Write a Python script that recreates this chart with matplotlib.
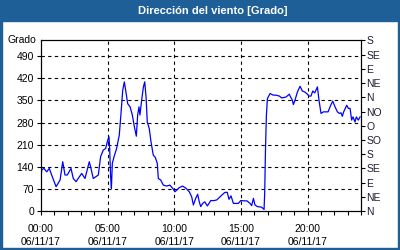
import numpy as np
import matplotlib.pyplot as plt
from matplotlib.patches import Rectangle

plt.rcParams['font.family'] = ['Liberation Sans', 'DejaVu Sans']

title = 'Dirección del viento [Grado]'
y_name = 'Grado'

# hours since 00:00 and wind direction in degrees
hours = [0.0, 0.05, 0.22, 0.43, 0.62, 0.8, 1.13, 1.43, 1.63, 1.8, 1.97, 2.25, 2.42, 2.63,
         3.05, 3.3, 3.62, 3.72, 3.92, 4.3, 4.47, 4.67, 4.85, 5.0, 5.1, 5.15, 5.22, 5.28,
         5.35, 5.48, 5.67, 5.87, 6.0, 6.13, 6.25, 6.37, 6.5, 6.68, 6.85, 7.0, 7.15, 7.25,
         7.35, 7.42, 7.55, 7.68, 7.78, 7.88, 7.97, 8.12, 8.25, 8.42, 8.57, 8.72, 8.8,
         8.98, 9.17, 9.42, 9.67, 9.87, 10.05, 10.17, 10.37, 10.62, 10.87, 11.12, 11.3,
         11.43, 11.6, 11.75, 11.87, 11.98, 12.13, 12.28, 12.48, 12.73, 12.98, 13.18,
         13.43, 13.63, 13.8, 13.97, 14.1, 14.25, 14.43, 14.8, 14.98, 15.3, 15.45, 15.68,
         15.8, 15.93, 16.05, 16.23, 16.55, 16.73, 16.78, 16.83, 16.9, 16.98, 17.18,
         17.42, 17.6, 17.88, 18.05, 18.38, 18.62, 18.72, 18.85, 18.93, 19.05, 19.23,
         19.43, 19.6, 19.78, 19.93, 20.1, 20.25, 20.38, 20.53, 20.73, 20.85, 21.0, 21.18,
         21.35, 21.53, 21.73, 21.88, 22.05, 22.23, 22.38, 22.5, 22.6, 22.7, 22.93, 23.05,
         23.18, 23.3, 23.4, 23.55, 23.65, 23.8, 23.93]
degrees = [103, 130, 135, 124, 135, 114, 77, 98, 156, 114, 114, 135, 103, 93,
           119, 103, 156, 140, 103, 114, 172, 193, 198, 224, 235, 198, 108, 72,
           151, 172, 198, 240, 309, 383, 409, 377, 340, 330, 304, 267, 237, 304,
           330, 304, 351, 393, 409, 361, 282, 261, 219, 177, 170, 151, 103,
           98, 82, 79, 82, 72, 61, 66, 74, 79, 72, 61, 45,
           19, 40, 53, 29, 14, 24, 29, 16, 33, 33, 35,
           45, 53, 59, 59, 37, 48, 24, 24, 33, 32, 32, 24,
           17, 40, 19, 14, 12, 5, 61, 182, 298, 356, 372,
           367, 367, 364, 358, 361, 370, 361, 351, 337, 351, 377,
           395, 380, 377, 372, 364, 364, 380, 374, 393, 351, 309, 314,
           314, 314, 335, 348, 330, 314, 309, 311, 300, 314, 335, 325,
           325, 288, 298, 282, 298, 288, 298]

left_ticks = [0, 70, 140, 210, 280, 350, 420, 490]
right_ticks = [0, 45, 90, 135, 180, 225, 270, 315, 360, 405, 450, 495, 540]
right_labels = ['N', 'NE', 'E', 'SE', 'S', 'SO', 'O', 'NO', 'N', 'NE', 'E', 'SE', 'S']
x_major = [0, 5, 10, 15, 20]
x_labels = ['00:00\n06/11/17', '05:00\n06/11/17', '10:00\n06/11/17',
            '15:00\n06/11/17', '20:00\n06/11/17']

frame_blue = '#1f5f97'
W, H = 400, 250

fig = plt.figure(figsize=(4, 2.5), dpi=100)
fig.patch.set_facecolor('white')

# title bar and thin border
fig.patches.append(Rectangle((0, 1 - 21 / H), 1, 21 / H, transform=fig.transFigure,
                             color=frame_blue, zorder=0))
fig.patches.append(Rectangle((0, 0), 2 / W, 1, transform=fig.transFigure, color=frame_blue))
fig.patches.append(Rectangle((1 - 2 / W, 0), 2 / W, 1, transform=fig.transFigure, color=frame_blue))
fig.patches.append(Rectangle((0, 0), 1, 2 / H, transform=fig.transFigure, color=frame_blue))
fig.text(213 / W, 1 - 10.5 / H, title, color='white', fontsize=8, fontweight='bold',
         ha='center', va='center')

ax = fig.add_axes([41 / W, (H - 211) / H, 320 / W, 170.5 / H])
ax.plot(hours, degrees, color='#0000ff', lw=0.9)
ax.set_xlim(0, 24)
ax.set_ylim(0, 540)

ax.set_yticks(left_ticks)
ax.set_yticklabels([str(t) for t in left_ticks])
ax.set_xticks(x_major)
ax.set_xticklabels(x_labels, linespacing=1.45)
ax.set_xticks(range(0, 25), minor=True)
ax.tick_params(axis='both', which='both', labelsize=7.5, length=3, width=0.8,
               direction='out', pad=2)
ax.tick_params(axis='x', which='major', pad=6)

for v in left_ticks[1:]:
    ax.axhline(v, color='black', lw=0.8, ls=(0, (3, 3)), zorder=1)
for h in x_major[1:]:
    ax.axvline(h, color='black', lw=0.8, ls=(0, (3, 3)), zorder=1)

for s in ax.spines.values():
    s.set_linewidth(0.8)

ax2 = ax.twinx()
ax2.set_ylim(0, 540)
ax2.set_yticks(right_ticks)
ax2.set_yticklabels(right_labels)
ax2.tick_params(axis='y', labelsize=7.5, length=3, width=0.8, pad=1,
                color='black', labelcolor='#1c1c30')
ax2.spines['right'].set_linewidth(0.8)

ax.text(-0.015, 1.0, y_name, transform=ax.transAxes, fontsize=7.5,
        ha='right', va='center')

fig.savefig('out.png', dpi=100)
